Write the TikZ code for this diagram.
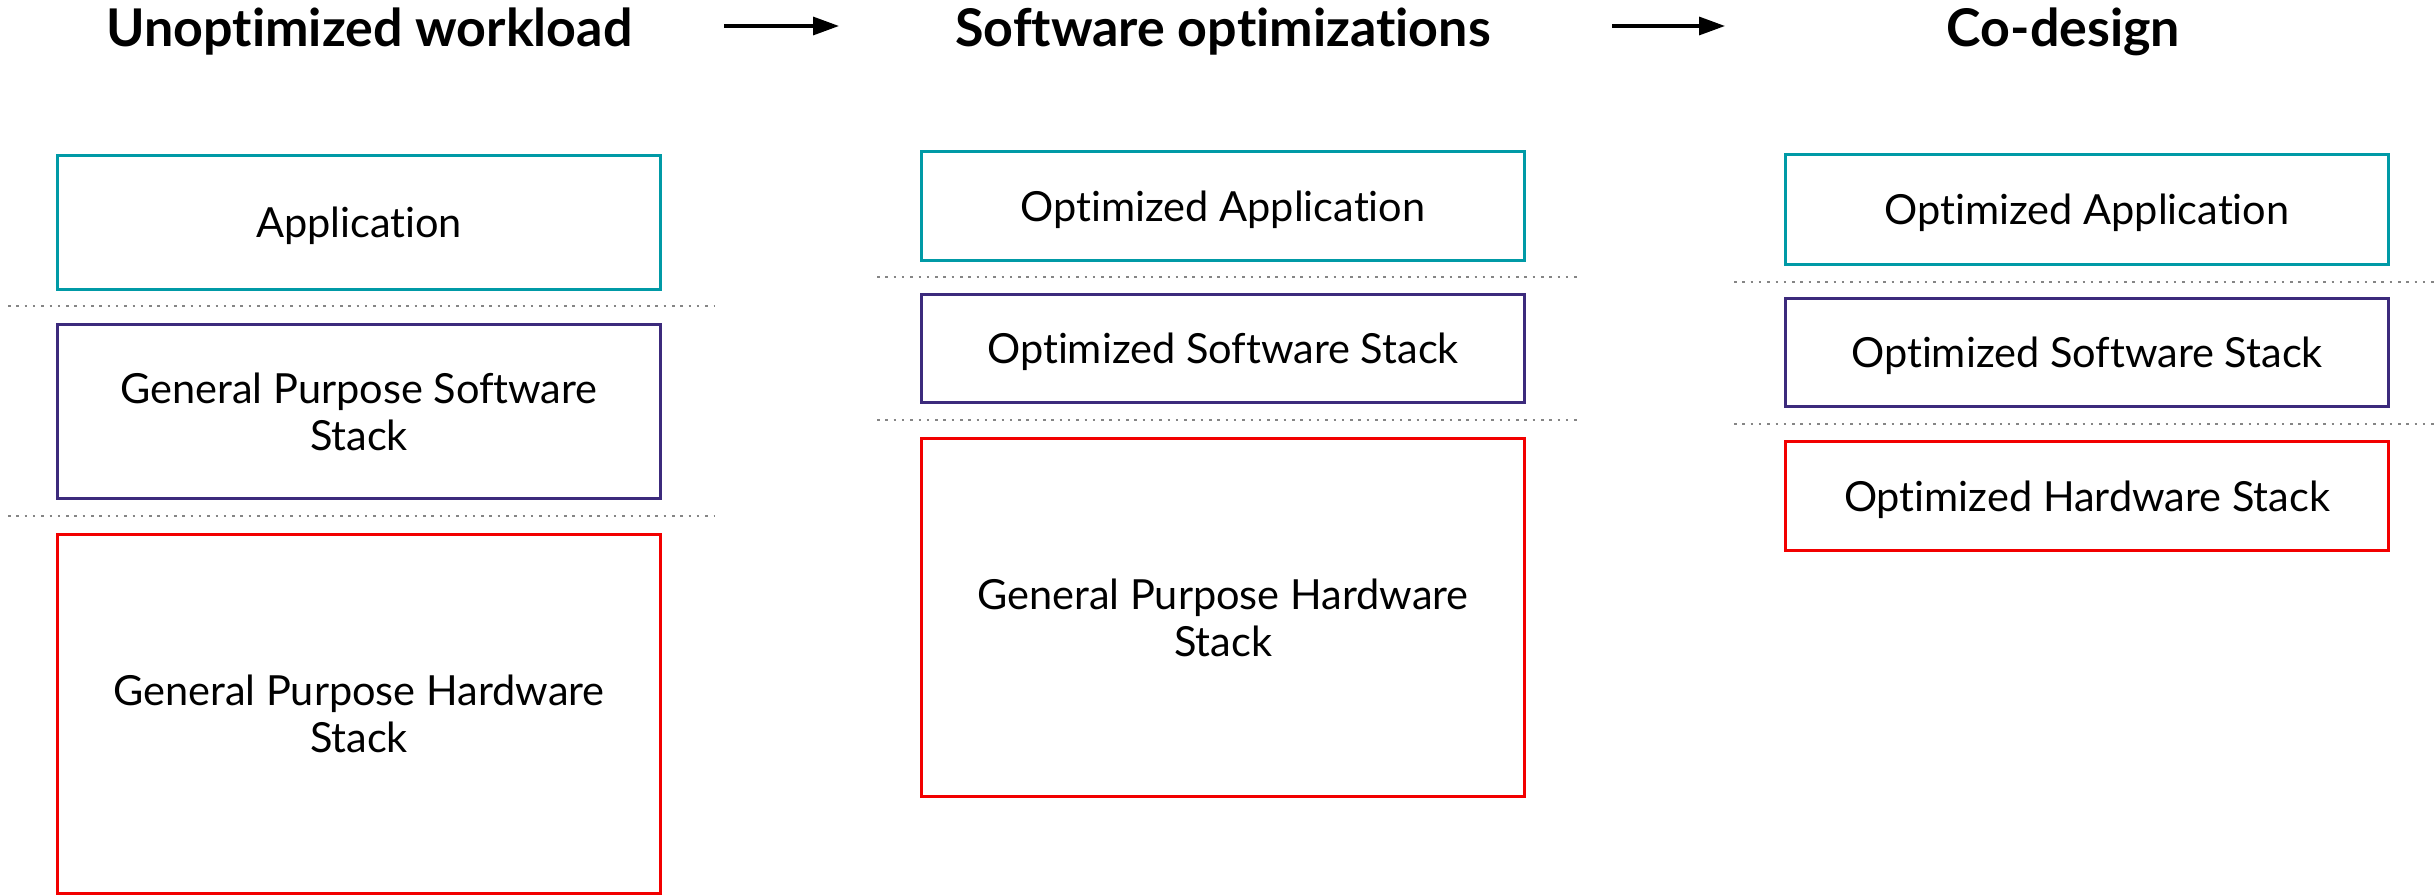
\documentclass[tikz,border=0pt]{standalone}
\usepackage{fontspec}
\setmainfont{Lato}[Ligatures=NoCommon]
\usetikzlibrary{arrows.meta}

\definecolor{appteal}{HTML}{009AA6}
\definecolor{swpurple}{HTML}{3C2A7C}
\definecolor{hwred}{HTML}{F20000}
\definecolor{sepgray}{HTML}{858585}

\begin{document}
\begin{tikzpicture}[x=1pt,y=-1pt,
  layer/.style={draw, line width=3pt, minimum width=603pt, inner sep=0pt,
    align=center, font=\fontsize{41.5}{47}\selectfont},
  oneline/.style={text depth=0pt},
  applayer/.style={layer, draw=appteal},
  swlayer/.style={layer, draw=swpurple},
  hwlayer/.style={layer, draw=hwred},
  heading/.style={anchor=base, inner sep=0pt, font=\bfseries\fontsize{52}{60}\selectfont},
  sep/.style={draw=sepgray, line width=2.5pt, dash pattern=on 2.5pt off 5.8pt},
  flow/.style={line width=3.3pt, -{Triangle[length=26pt,width=18pt]}}
]
\fill[white] (0,0) rectangle (2436,896);
\useasboundingbox (0,0) rectangle (2436,896);

% stage headings
\node[heading] (h1) at (369.5,47) {Unoptimized workload};
\node[heading] (h2) at (1223,47) {Software optimizations};
\node[heading] (h3) at (2063.5,47) {Co-design};

% arrows between the stages
\coordinate (f1s) at (724,26);
\coordinate (f1e) at (839,26);
\coordinate (f2s) at (1612,26);
\coordinate (f2e) at (1725,26);
\draw[flow] (f1s) -- (f1e);
\draw[flow] (f2s) -- (f2e);

% stage 1: unoptimized workload
\node[applayer, oneline, minimum height=134pt] (a1) at (359,222.5) {Application};
\node[swlayer, minimum height=174pt] (s1) at (359,411.5) {General Purpose Software\\Stack};
\node[hwlayer, minimum height=358.5pt] (w1) at (359,713.75) {General Purpose Hardware\\Stack};
\draw[sep] (8,306) -- (715,306);
\draw[sep] (8,516) -- (715,516);

% stage 2: software optimizations
\node[applayer, oneline, minimum height=109pt] (a2) at (1223,206) {Optimized Application};
\node[swlayer, oneline, minimum height=108pt] (s2) at (1223,348.5) {Optimized Software Stack};
\node[hwlayer, minimum height=358pt] (w2) at (1223,617.5) {General Purpose Hardware\\Stack};
\draw[sep] (877,277) -- (1582,277);
\draw[sep] (877,420) -- (1582,420);

% stage 3: co-design
\node[applayer, oneline, minimum height=110pt] (a3) at (2087,209.5) {Optimized Application};
\node[swlayer, oneline, minimum height=108pt] (s3) at (2087,352.5) {Optimized Software Stack};
\node[hwlayer, oneline, minimum height=109pt] (w3) at (2087,496) {Optimized Hardware Stack};
\draw[sep] (1734,282) -- (2436,282);
\draw[sep] (1734,424) -- (2436,424);
\end{tikzpicture}
\end{document}
